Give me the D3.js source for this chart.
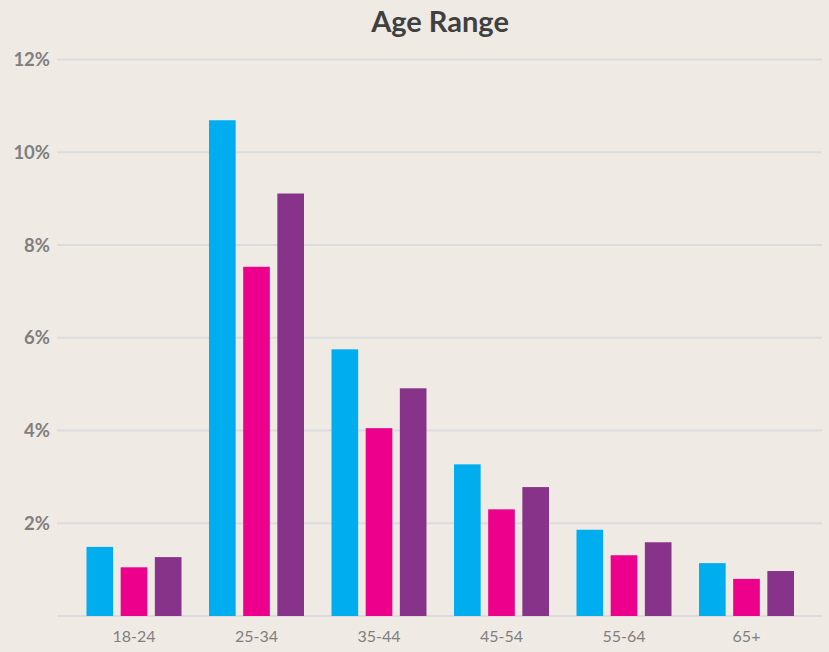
<!DOCTYPE html>
<html>
<head>
<meta charset="utf-8">
<script src="https://cdn.jsdelivr.net/npm/d3@7"></script>
<style>
  body { margin: 0; background: #efeae4; }
  svg { display: block; font-family: Lato, "Open Sans", sans-serif; }
</style>
</head>
<body>
<svg></svg>
<script>
let width = 829, height = 652;

// data (percent)
let ageGroups = ["18-24", "25-34", "35-44", "45-54", "55-64", "65+"];
let seriesA = [1.49, 10.69, 5.75, 3.27, 1.86, 1.14];
let seriesB = [1.05, 7.53, 4.05, 2.30, 1.31, 0.80];
let seriesC = [1.27, 9.11, 4.91, 2.78, 1.59, 0.97];
let yTicks = [2, 4, 6, 8, 10, 12];
let barColors = ["#00aeef", "#ec008c", "#87338a"];

let series = [seriesA, seriesB, seriesC];

let svg = d3.select("svg")
  .attr("width", width)
  .attr("height", height);

svg.append("rect")
  .attr("width", width)
  .attr("height", height)
  .attr("fill", "#efeae4");

let gridLeft = 57, gridRight = 822;

let x = d3.scaleBand()
  .domain(ageGroups)
  .range([72.75, 807.75])
  .padding(0);

let y = d3.scaleLinear()
  .domain([0, 12])
  .range([616, 59.5]);

// inner scale for the three bars in each group
let xInner = d3.scaleBand()
  .domain([0, 1, 2])
  .range([0, 95])
  .paddingInner(0.22);

// title
svg.append("text")
  .attr("x", 440)
  .attr("y", 32)
  .attr("text-anchor", "middle")
  .attr("font-size", 29)
  .attr("font-weight", "bold")
  .attr("fill", "#404040")
  .text("Age Range");

// gridlines
svg.append("g")
  .selectAll("line")
  .data([0].concat(yTicks))
  .enter().append("line")
  .attr("x1", gridLeft)
  .attr("x2", gridRight)
  .attr("y1", d => y(d))
  .attr("y2", d => y(d))
  .attr("stroke", "#dcdcde")
  .attr("stroke-width", 2);

// y labels
svg.append("g")
  .selectAll("text")
  .data(yTicks)
  .enter().append("text")
  .attr("x", 50)
  .attr("y", d => y(d))
  .attr("dy", "0.36em")
  .attr("text-anchor", "end")
  .attr("font-size", 18.5)
  .attr("font-weight", "bold")
  .attr("fill", "#7f7f7f")
  .text(d => d + "%");

// bars
let groups = svg.append("g")
  .selectAll("g")
  .data(ageGroups)
  .enter().append("g")
  .attr("transform", d => "translate(" + (x(d) + (x.bandwidth() - 95) / 2) + ",0)");

groups.selectAll("rect")
  .data((d, i) => series.map((s, k) => ({k: k, v: s[i]})))
  .enter().append("rect")
  .attr("x", d => xInner(d.k))
  .attr("width", xInner.bandwidth())
  .attr("y", d => y(d.v))
  .attr("height", d => y(0) - y(d.v))
  .attr("fill", d => barColors[d.k]);

// x labels
svg.append("g")
  .selectAll("text")
  .data(ageGroups)
  .enter().append("text")
  .attr("x", d => x(d) + x.bandwidth() / 2)
  .attr("y", 642)
  .attr("text-anchor", "middle")
  .attr("font-size", 16)
  .attr("fill", "#7f7f7f")
  .text(d => d);
</script>
</body>
</html>
